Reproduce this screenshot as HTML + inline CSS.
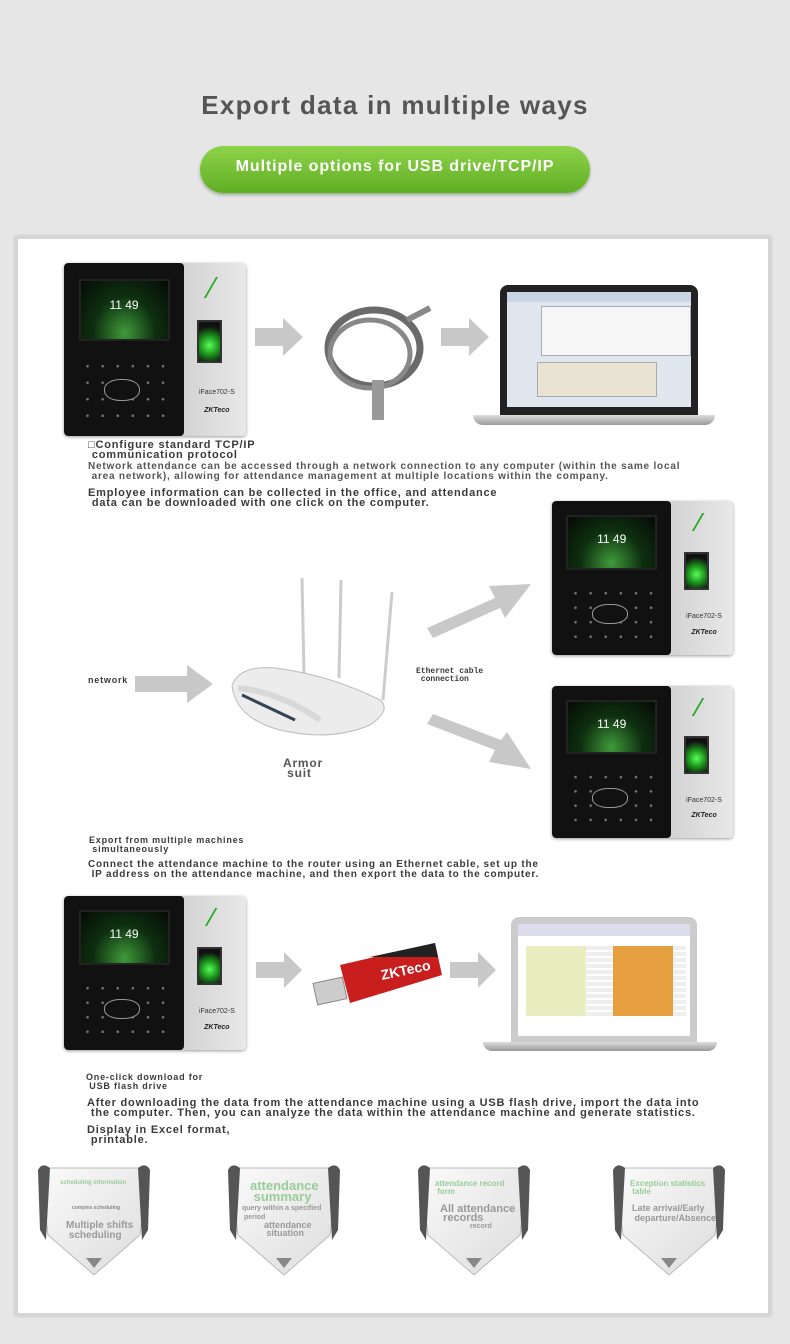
<!DOCTYPE html>
<html><head><meta charset="utf-8"><style>
*{margin:0;padding:0;box-sizing:border-box}
body{width:790px;height:1344px;background:#e6e6e6;position:relative;overflow:hidden;font-family:"Liberation Sans",sans-serif}
.a{position:absolute}
.t{position:absolute;font-weight:bold;color:#3a3a3a;font-size:11px;line-height:10px;white-space:pre;letter-spacing:0.8px}
.dev{position:absolute;border-radius:4px;overflow:hidden;background:linear-gradient(90deg,#eee,#cfcfcf 60%,#e8e8e8);box-shadow:0 1px 3px #999}
.dev .blk{position:absolute;left:0;top:0;bottom:0;width:66%;background:#111;border-radius:4px}
.dev .scr{position:absolute;left:8%;top:9%;width:50%;height:36%;background:radial-gradient(ellipse at 50% 90%,#3f9a3a,#0e3010 50%,#050a05);border:2px solid #222}
.dev .tm{position:absolute;left:0;right:0;top:30%;text-align:center;color:#fff;font-size:12px}
.dev .keys{position:absolute;left:9%;top:55%;width:50%;height:38%;background:radial-gradient(circle,#777 1px,transparent 1.6px) 0 0/16.6% 25%}
.dev .eye{position:absolute;left:22%;top:67%;width:20%;height:13%;border:1.5px solid #999;border-radius:45%;background:#111}
.dev .fp{position:absolute;left:73%;top:33%;width:14%;height:25%;background:radial-gradient(circle at 50% 60%,#5f5,#1a8a1a 40%,#111 75%);border:2px solid #333}
.dev .lb{position:absolute;left:68%;right:0;top:73%;text-align:center;font-size:7px;color:#333}
.dev .zk{position:absolute;left:68%;right:0;top:83%;text-align:center;font-size:7px;color:#222;font-weight:bold;font-style:italic}
.dev .lg{position:absolute;left:80%;top:8%;width:8%;height:12%;border-left:2px solid #2a2;transform:skewX(-30deg)}
</style></head><body>
<div class="a" style="left:0;top:90px;width:790px;text-align:center;font-size:26px;font-weight:bold;color:#555;letter-spacing:1.3px">Export data in multiple ways</div>
<div class="a" style="left:200px;top:146px;width:390px;height:47px;border-radius:24px;background:linear-gradient(#8fd34a,#5fae24);box-shadow:0 2px 3px #9a9;color:#fff;font-weight:bold;font-size:16px;text-align:center;line-height:42px;letter-spacing:0.9px">Multiple options for USB drive/TCP/IP</div>
<div class="a" style="left:15px;top:236px;width:756px;height:1080px;background:#fff;border:3px solid #d4d4d4;box-shadow:0 0 3px #bbb"></div>

<div class="dev" style="left:64px;top:263px;width:182px;height:173px"><div class="blk"></div><div class="scr"><div class="tm">11 49</div></div><div class="keys"></div><div class="eye"></div><div class="lg"></div><div class="fp"></div><div class="lb">iFace702-S</div><div class="zk">ZKTeco</div></div>
<svg class="a" style="left:255px;top:318px" width="50" height="38"><polygon points="0,10 28,10 28,0 48,19 28,38 28,28 0,28" fill="#c8c8c8"/></svg>
<svg class="a" style="left:312px;top:290px" width="130" height="140"><ellipse cx="62" cy="58" rx="46" ry="38" fill="none" stroke="#6a6a6a" stroke-width="7"/><ellipse cx="58" cy="64" rx="40" ry="34" fill="none" stroke="#888" stroke-width="5"/><line x1="95" y1="30" x2="118" y2="18" stroke="#888" stroke-width="6"/><rect x="60" y="90" width="12" height="40" fill="#999"/></svg>
<svg class="a" style="left:441px;top:318px" width="50" height="38"><polygon points="0,10 28,10 28,0 48,19 28,38 28,28 0,28" fill="#c8c8c8"/></svg>
<div class="a" style="left:500px;top:285px;width:198px;height:130px;background:#222;border-radius:8px 8px 0 0"></div>
<div class="a" style="left:507px;top:292px;width:184px;height:115px;background:#dfe6ee"><div style="height:10px;background:#c8d4e4"></div><div style="position:absolute;left:34px;top:14px;width:150px;height:50px;background:#f6f6f6;border:1px solid #aab"></div><div style="position:absolute;left:30px;top:70px;width:120px;height:35px;background:#e8e3d3;border:1px solid #aaa"></div></div>
<div class="a" style="left:473px;top:415px;width:242px;height:10px;background:linear-gradient(#ddd,#999);border-radius:0 0 40px 40px"></div>

<div class="t" style="left:88px;top:440px">□Configure standard TCP/IP
 communication protocol</div>
<div class="t" style="left:88px;top:462px;font-size:10px;color:#555">Network attendance can be accessed through a network connection to any computer (within the same local
 area network), allowing for attendance management at multiple locations within the company.</div>
<div class="t" style="left:88px;top:488px">Employee information can be collected in the office, and attendance
 data can be downloaded with one click on the computer.</div>

<div class="dev" style="left:552px;top:501px;width:181px;height:154px"><div class="blk"></div><div class="scr"><div class="tm">11 49</div></div><div class="keys"></div><div class="eye"></div><div class="lg"></div><div class="fp"></div><div class="lb">iFace702-S</div><div class="zk">ZKTeco</div></div>
<div class="dev" style="left:552px;top:686px;width:181px;height:152px"><div class="blk"></div><div class="scr"><div class="tm">11 49</div></div><div class="keys"></div><div class="eye"></div><div class="lg"></div><div class="fp"></div><div class="lb">iFace702-S</div><div class="zk">ZKTeco</div></div>

<div class="t" style="left:88px;top:675px;font-size:9px">network</div>
<svg class="a" style="left:135px;top:665px" width="80" height="38"><polygon points="0,11 52,11 52,0 78,19 52,38 52,27 0,27" fill="#c8c8c8"/></svg>
<svg class="a" style="left:220px;top:570px" width="180" height="180">
<line x1="82" y1="8" x2="84" y2="105" stroke="#ccc" stroke-width="3"/>
<line x1="121" y1="10" x2="119" y2="108" stroke="#ccc" stroke-width="3"/>
<line x1="172" y1="22" x2="163" y2="130" stroke="#ccc" stroke-width="3"/>
<path d="M12,115 Q20,95 55,98 Q110,105 160,130 Q172,140 150,155 Q110,172 60,160 Q15,148 12,115Z" fill="#ececec" stroke="#bbb"/>
<path d="M18,118 Q60,122 100,150" fill="none" stroke="#d8d8d8" stroke-width="6"/>
<path d="M22,125 L75,150" stroke="#345" stroke-width="3"/></svg>
<div class="t" style="left:283px;top:758px;font-size:12px;color:#555">Armor
 suit</div>
<div class="t" style="left:416px;top:668px;font-size:8px;line-height:8px;font-family:'Liberation Mono',monospace;letter-spacing:0">Ethernet cable
 connection</div>
<svg class="a" style="left:425px;top:580px" width="110" height="60"><polygon points="2,48 70,18 64,6 106,4 80,38 75,28 8,58" fill="#c8c8c8"/></svg>
<svg class="a" style="left:425px;top:712px" width="110" height="60"><polygon points="2,12 70,38 64,50 106,57 82,20 76,28 8,2" fill="#c8c8c8"/></svg>

<div class="t" style="left:89px;top:836px;font-size:9px;line-height:9px">Export from multiple machines
 simultaneously</div>
<div class="t" style="left:88px;top:860px;font-size:10px">Connect the attendance machine to the router using an Ethernet cable, set up the
 IP address on the attendance machine, and then export the data to the computer.</div>

<div class="dev" style="left:64px;top:896px;width:182px;height:154px"><div class="blk"></div><div class="scr"><div class="tm">11 49</div></div><div class="keys"></div><div class="eye"></div><div class="lg"></div><div class="fp"></div><div class="lb">iFace702-S</div><div class="zk">ZKTeco</div></div>
<svg class="a" style="left:256px;top:952px" width="50" height="36"><polygon points="0,10 28,10 28,0 46,18 28,36 28,26 0,26" fill="#c8c8c8"/></svg>
<svg class="a" style="left:310px;top:935px" width="135" height="80"><rect x="5" y="45" width="30" height="22" fill="#ccc" stroke="#888" transform="rotate(-12 20 56)"/><path d="M30,30 L125,8 L132,40 L40,68Z" fill="#c81e1e"/><path d="M60,22 L125,8 L128,22 Z" fill="#222"/><text x="72" y="45" fill="#fff" font-size="14" font-weight="bold" font-family="Liberation Sans" transform="rotate(-12 72 45)">ZKTeco</text></svg>
<svg class="a" style="left:450px;top:952px" width="50" height="36"><polygon points="0,10 28,10 28,0 46,18 28,36 28,26 0,26" fill="#c8c8c8"/></svg>
<div class="a" style="left:511px;top:917px;width:186px;height:125px;background:#ccc;border-radius:8px 8px 0 0"></div>
<div class="a" style="left:518px;top:924px;width:172px;height:112px;background:#fff"><div style="height:12px;background:#dde"></div><div style="position:absolute;left:8px;top:22px;width:160px;height:70px;background:repeating-linear-gradient(#eee 0 4px,#fff 4px 6px)"></div><div style="position:absolute;left:8px;top:22px;width:60px;height:70px;background:#e9eec0"></div><div style="position:absolute;left:95px;top:22px;width:60px;height:70px;background:#e6a040"></div></div>
<div class="a" style="left:483px;top:1042px;width:234px;height:9px;background:linear-gradient(#ddd,#999);border-radius:0 0 40px 40px"></div>

<div class="t" style="left:86px;top:1073px;font-size:9px;line-height:9px">One-click download for
 USB flash drive</div>
<div class="t" style="left:87px;top:1098px">After downloading the data from the attendance machine using a USB flash drive, import the data into
 the computer. Then, you can analyze the data within the attendance machine and generate statistics.</div>
<div class="t" style="left:87px;top:1125px">Display in Excel format,
 printable.</div>

<svg class="a" style="left:30px;top:1160px" width="740" height="125">
<defs><linearGradient id="g" x1="0" y1="0" x2="1" y2="1"><stop offset="0" stop-color="#fafafa"/><stop offset="1" stop-color="#dcdcdc"/></linearGradient></defs>
<g id="s"><path d="M10,8 L118,8 L110,75 L64,115 L18,75Z" fill="url(#g)" stroke="#bbb"/><path d="M8,10 Q12,2 20,8 L16,80 L10,70Z" fill="#555"/><path d="M120,10 Q116,2 108,8 L112,80 L118,70Z" fill="#555"/><polygon points="56,98 72,98 64,108" fill="#888"/></g>
<use href="#s" x="190"/><use href="#s" x="380"/><use href="#s" x="575"/>
</svg>
<div class="t" style="left:60px;top:1178px;font-size:6px;color:#9c9;letter-spacing:0">scheduling information</div>
<div class="t" style="left:72px;top:1203px;font-size:5px;color:#888;letter-spacing:0">complex scheduling</div>
<div class="t" style="left:66px;top:1221px;font-size:10px;line-height:10px;color:#999;letter-spacing:0">Multiple shifts
 scheduling</div>
<div class="t" style="left:250px;top:1180px;font-size:13px;line-height:11px;color:#9c9;letter-spacing:0">attendance
 summary</div>
<div class="t" style="left:242px;top:1204px;font-size:7px;line-height:9px;color:#999;letter-spacing:0">query within a specified
 period</div>
<div class="t" style="left:264px;top:1221px;font-size:9px;line-height:8px;color:#999;letter-spacing:0">attendance
 situation</div>
<div class="t" style="left:435px;top:1180px;font-size:8px;line-height:8px;color:#9c9;letter-spacing:0">attendance record
 form</div>
<div class="t" style="left:440px;top:1205px;font-size:11px;line-height:9px;color:#999;letter-spacing:0">All attendance
 records</div>
<div class="t" style="left:470px;top:1222px;font-size:7px;color:#999;letter-spacing:0">record</div>
<div class="t" style="left:630px;top:1180px;font-size:8px;line-height:8px;color:#9c9;letter-spacing:0">Exception statistics
 table</div>
<div class="t" style="left:632px;top:1203px;font-size:9px;line-height:10px;color:#999;letter-spacing:0">Late arrival/Early
 departure/Absence</div>
</body></html>
